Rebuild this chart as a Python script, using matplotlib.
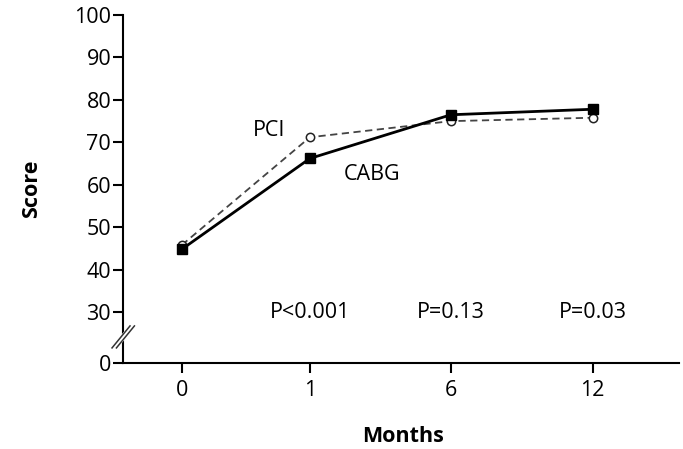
import numpy as np
import matplotlib
matplotlib.use("Agg")
import matplotlib.pyplot as plt

# data
months = ["0", "1", "6", "12"]
cabg = [44.8, 66.2, 76.5, 77.8]
pci = [45.8, 71.2, 75.0, 75.8]
p_labels = ["P<0.001", "P=0.13", "P=0.03"]
y_ticks = [0, 30, 40, 50, 60, 70, 80, 90, 100]

plt.rcParams['font.family'] = ['Open Sans', 'DejaVu Sans']
FS = 15.5

# broken y axis: everything below 30 squeezed
def fwd(y):
    y = np.asarray(y, dtype=float)
    return np.where(y >= 30, y, 18 + y * 0.4)

def inv(y):
    y = np.asarray(y, dtype=float)
    return np.where(y >= 30, y, (y - 18) / 0.4)

fig = plt.figure(figsize=(6.83, 4.49), dpi=100)
ax = fig.add_axes([0.180, 0.1915, 0.814, 0.775])
ax.set_yscale('function', functions=(fwd, inv))

# slightly uneven spacing of the month columns, as in the original
x = np.array([0, 0.935, 1.965, 3.0])
ax.plot(x, pci, color='#444444', lw=1.3, ls=(0, (4, 2.5)), marker='o', ms=6,
        mfc='white', mec='#222222', mew=1.1, zorder=3)
ax.plot(x, cabg, color='black', lw=2.0, marker='s', ms=7.5, mfc='black',
        mec='black', zorder=4)

ax.text(0.64, 72.8, "PCI", fontsize=FS, ha='center', va='center')
ax.text(1.39, 62.5, "CABG", fontsize=FS, ha='center', va='center')
for i, lab in enumerate(p_labels):
    ax.text(x[i + 1], 30, lab, fontsize=FS, ha='center', va='center')

ax.set_xlim(-0.43, 3.63)
ax.set_ylim(0, 100)
ax.set_xticks(x)
ax.set_xticklabels(months)
ax.set_yticks(y_ticks)
ax.set_yticklabels([str(t) for t in y_ticks])
ax.tick_params(axis='both', labelsize=FS, width=1.5, length=7, direction='out')
ax.tick_params(axis='y', pad=1.5)
ax.tick_params(axis='x', pad=5)

for s in ['top', 'right']:
    ax.spines[s].set_visible(False)
for s in ['left', 'bottom']:
    ax.spines[s].set_linewidth(1.5)

ax.set_ylabel("Score", fontsize=FS, fontweight='bold')
ax.set_xlabel("Months", fontsize=FS, fontweight='bold')
ax.yaxis.set_label_coords(-0.146, 0.5)
ax.xaxis.set_label_coords(0.503, -0.18)

# axis break marks
cx, cy = 0.0005, 0.075
dx, dy = 9 / 556, 11 / 348
off = 2.2 / 556
ax.plot([cx - dx, cx + dx], [cy - dy, cy + dy], transform=ax.transAxes,
        color='white', lw=4, clip_on=False, zorder=5)
for o in (-off, off):
    ax.plot([cx - dx + o, cx + dx + o], [cy - dy, cy + dy], transform=ax.transAxes,
            color='#333333', lw=1.1, clip_on=False, zorder=6)

fig.savefig("out.png", dpi=100)
